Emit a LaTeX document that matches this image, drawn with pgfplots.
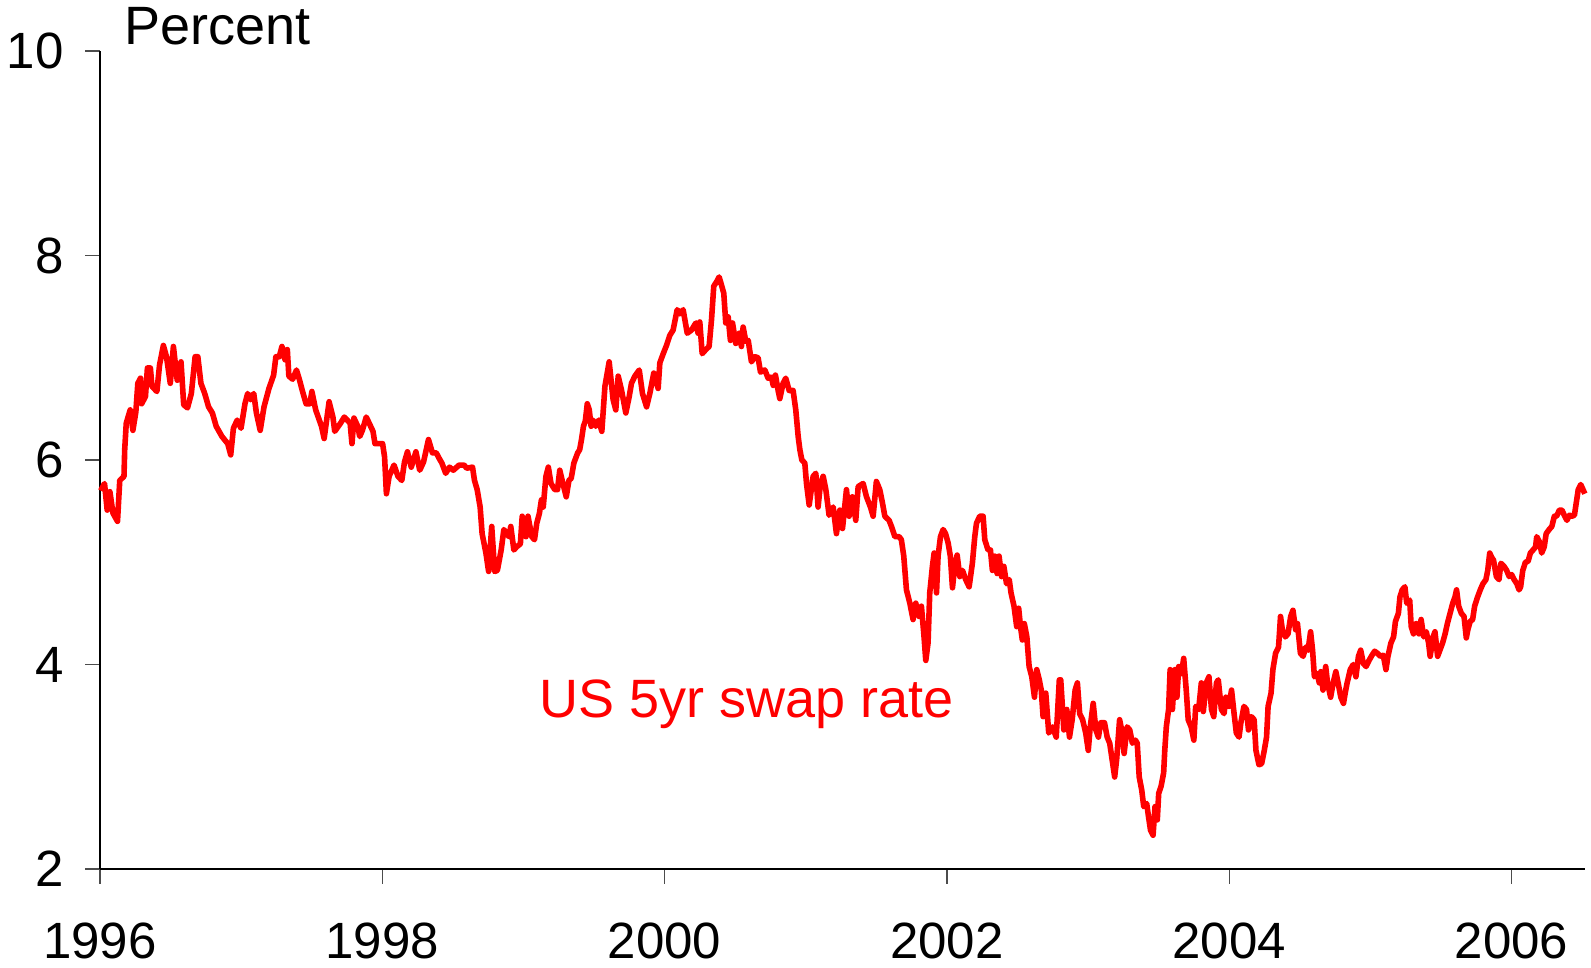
\documentclass[border=0pt]{standalone}
\usepackage{pgfplots}
\pgfplotsset{compat=1.18}
\usepackage{pgfplotstable}
\usepackage{fontspec}
\setmainfont{Liberation Sans}
\usetikzlibrary{calc}
\pgfplotstableread{
year value
1996.005 5.70
1996.032 5.77
1996.051 5.51
1996.070 5.69
1996.092 5.48
1996.124 5.40
1996.140 5.80
1996.170 5.84
1996.175 6.10
1996.186 6.36
1996.214 6.49
1996.233 6.29
1996.254 6.47
1996.268 6.75
1996.287 6.80
1996.295 6.55
1996.322 6.62
1996.336 6.90
1996.357 6.90
1996.368 6.72
1996.403 6.67
1996.422 6.93
1996.449 7.12
1996.471 7.01
1996.498 6.75
1996.520 7.11
1996.547 6.78
1996.574 6.96
1996.593 6.54
1996.620 6.51
1996.647 6.65
1996.674 7.01
1996.693 7.01
1996.715 6.75
1996.742 6.65
1996.769 6.52
1996.796 6.46
1996.823 6.33
1996.864 6.23
1996.905 6.16
1996.926 6.05
1996.945 6.31
1996.972 6.39
1996.999 6.31
1997.027 6.55
1997.046 6.65
1997.067 6.59
1997.089 6.65
1997.108 6.46
1997.135 6.29
1997.162 6.52
1997.197 6.70
1997.230 6.83
1997.246 7.01
1997.270 7.01
1997.289 7.11
1997.311 6.98
1997.327 7.08
1997.338 6.82
1997.365 6.79
1997.392 6.88
1997.414 6.78
1997.433 6.68
1997.460 6.55
1997.487 6.55
1997.501 6.67
1997.528 6.49
1997.569 6.33
1997.588 6.21
1997.623 6.57
1997.650 6.42
1997.663 6.28
1997.704 6.36
1997.731 6.42
1997.772 6.36
1997.785 6.16
1997.799 6.41
1997.826 6.33
1997.840 6.23
1997.859 6.29
1997.886 6.42
1997.907 6.36
1997.934 6.28
1997.948 6.16
1997.975 6.16
1998.002 6.16
1998.016 6.03
1998.029 5.67
1998.048 5.84
1998.083 5.95
1998.111 5.84
1998.138 5.80
1998.157 5.98
1998.178 6.08
1998.205 5.93
1998.238 6.08
1998.265 5.90
1998.292 5.98
1998.327 6.20
1998.355 6.07
1998.382 6.07
1998.401 6.02
1998.422 5.97
1998.449 5.87
1998.476 5.93
1998.503 5.90
1998.544 5.95
1998.579 5.95
1998.598 5.92
1998.639 5.93
1998.653 5.80
1998.672 5.71
1998.693 5.54
1998.707 5.28
1998.734 5.09
1998.753 4.91
1998.775 5.35
1998.796 4.91
1998.815 4.92
1998.842 5.12
1998.861 5.32
1998.897 5.25
1998.910 5.35
1998.932 5.12
1998.951 5.15
1998.978 5.18
1998.991 5.45
1999.018 5.25
1999.032 5.45
1999.059 5.25
1999.078 5.22
1999.094 5.38
1999.113 5.48
1999.127 5.61
1999.140 5.54
1999.159 5.84
1999.176 5.93
1999.195 5.77
1999.222 5.71
1999.241 5.71
1999.257 5.90
1999.276 5.79
1999.303 5.64
1999.322 5.80
1999.338 5.82
1999.357 5.97
1999.384 6.07
1999.398 6.10
1999.411 6.20
1999.425 6.33
1999.438 6.38
1999.452 6.55
1999.466 6.49
1999.479 6.33
1999.493 6.39
1999.512 6.33
1999.533 6.39
1999.555 6.28
1999.577 6.72
1999.607 6.96
1999.635 6.59
1999.654 6.49
1999.671 6.82
1999.695 6.68
1999.725 6.46
1999.749 6.62
1999.765 6.75
1999.789 6.82
1999.820 6.88
1999.843 6.65
1999.872 6.52
1999.895 6.65
1999.923 6.85
1999.954 6.70
1999.966 6.95
1999.990 7.04
2000.013 7.12
2000.037 7.22
2000.060 7.27
2000.089 7.47
2000.108 7.43
2000.131 7.47
2000.160 7.24
2000.190 7.27
2000.221 7.34
2000.237 7.24
2000.249 7.35
2000.266 7.04
2000.292 7.08
2000.315 7.11
2000.332 7.37
2000.348 7.70
2000.367 7.74
2000.386 7.79
2000.405 7.70
2000.419 7.63
2000.433 7.34
2000.450 7.40
2000.466 7.17
2000.481 7.34
2000.504 7.14
2000.528 7.24
2000.544 7.11
2000.556 7.30
2000.575 7.16
2000.592 7.17
2000.615 6.96
2000.639 7.01
2000.662 7.00
2000.679 6.86
2000.710 6.88
2000.733 6.80
2000.757 6.81
2000.769 6.73
2000.785 6.83
2000.804 6.68
2000.816 6.60
2000.839 6.75
2000.858 6.80
2000.882 6.68
2000.910 6.68
2000.929 6.49
2000.946 6.23
2000.958 6.10
2000.972 6.00
2000.993 5.97
2001.005 5.77
2001.024 5.56
2001.052 5.84
2001.071 5.87
2001.087 5.54
2001.104 5.77
2001.123 5.84
2001.142 5.71
2001.165 5.46
2001.194 5.54
2001.217 5.28
2001.241 5.51
2001.260 5.33
2001.288 5.71
2001.307 5.45
2001.330 5.64
2001.354 5.41
2001.371 5.74
2001.406 5.77
2001.430 5.64
2001.458 5.54
2001.477 5.45
2001.500 5.79
2001.524 5.71
2001.543 5.58
2001.560 5.45
2001.590 5.41
2001.607 5.35
2001.631 5.25
2001.661 5.25
2001.677 5.22
2001.694 5.06
2001.713 4.73
2001.737 4.60
2001.760 4.44
2001.779 4.60
2001.803 4.47
2001.819 4.57
2001.836 4.30
2001.850 4.04
2001.866 4.21
2001.878 4.70
2001.897 4.96
2001.909 5.09
2001.926 4.70
2001.937 5.06
2001.954 5.25
2001.973 5.32
2001.990 5.28
2002.008 5.19
2002.024 5.06
2002.039 4.75
2002.055 4.96
2002.072 5.07
2002.091 4.86
2002.110 4.92
2002.133 4.83
2002.157 4.76
2002.180 4.99
2002.197 5.25
2002.209 5.38
2002.232 5.45
2002.256 5.45
2002.268 5.22
2002.291 5.12
2002.308 5.12
2002.322 4.92
2002.339 5.06
2002.355 4.89
2002.369 5.06
2002.387 4.86
2002.403 4.96
2002.422 4.79
2002.441 4.83
2002.454 4.70
2002.475 4.57
2002.494 4.37
2002.508 4.55
2002.521 4.37
2002.534 4.24
2002.548 4.40
2002.566 4.27
2002.582 3.98
2002.601 3.88
2002.620 3.68
2002.636 3.95
2002.654 3.85
2002.668 3.75
2002.681 3.49
2002.700 3.72
2002.721 3.33
2002.748 3.39
2002.774 3.29
2002.796 3.85
2002.806 3.85
2002.828 3.36
2002.849 3.56
2002.868 3.29
2002.887 3.46
2002.908 3.75
2002.924 3.82
2002.940 3.52
2002.961 3.46
2002.983 3.33
2003.001 3.16
2003.015 3.39
2003.036 3.62
2003.055 3.36
2003.073 3.29
2003.089 3.43
2003.116 3.43
2003.135 3.29
2003.153 3.23
2003.170 3.07
2003.188 2.90
2003.202 3.07
2003.223 3.46
2003.242 3.33
2003.255 3.13
2003.276 3.39
2003.295 3.36
2003.314 3.23
2003.335 3.26
2003.348 3.23
2003.362 2.90
2003.380 2.77
2003.394 2.61
2003.415 2.64
2003.428 2.51
2003.442 2.38
2003.460 2.33
2003.474 2.61
2003.490 2.48
2003.500 2.74
2003.517 2.81
2003.535 2.94
2003.543 3.16
2003.554 3.39
2003.570 3.56
2003.581 3.95
2003.597 3.56
2003.615 3.95
2003.629 3.68
2003.642 3.98
2003.661 3.91
2003.677 4.06
2003.695 3.75
2003.709 3.46
2003.730 3.39
2003.749 3.26
2003.762 3.59
2003.783 3.56
2003.802 3.82
2003.816 3.54
2003.837 3.82
2003.856 3.88
2003.874 3.56
2003.890 3.49
2003.909 3.82
2003.922 3.85
2003.944 3.56
2003.963 3.52
2003.976 3.68
2003.997 3.59
2004.016 3.75
2004.034 3.52
2004.050 3.33
2004.069 3.29
2004.082 3.43
2004.104 3.59
2004.122 3.56
2004.136 3.36
2004.157 3.49
2004.176 3.46
2004.189 3.16
2004.210 3.02
2004.229 3.03
2004.248 3.16
2004.264 3.29
2004.275 3.59
2004.296 3.72
2004.309 3.95
2004.328 4.11
2004.349 4.17
2004.363 4.47
2004.376 4.34
2004.397 4.27
2004.416 4.30
2004.435 4.47
2004.451 4.53
2004.470 4.34
2004.483 4.40
2004.504 4.11
2004.523 4.08
2004.542 4.17
2004.558 4.14
2004.576 4.32
2004.590 4.14
2004.603 3.88
2004.622 3.91
2004.638 3.82
2004.648 3.93
2004.664 3.75
2004.683 3.98
2004.696 3.82
2004.718 3.68
2004.736 3.82
2004.755 3.93
2004.771 3.82
2004.790 3.68
2004.809 3.62
2004.825 3.75
2004.835 3.82
2004.857 3.95
2004.878 4.00
2004.897 3.88
2004.915 4.08
2004.931 4.14
2004.950 4.01
2004.969 3.98
2004.990 4.04
2005.011 4.09
2005.030 4.13
2005.049 4.11
2005.070 4.08
2005.091 4.09
2005.110 3.95
2005.124 4.08
2005.145 4.21
2005.164 4.27
2005.177 4.42
2005.198 4.50
2005.209 4.66
2005.225 4.73
2005.244 4.76
2005.257 4.60
2005.278 4.63
2005.289 4.37
2005.305 4.30
2005.324 4.40
2005.343 4.30
2005.359 4.44
2005.377 4.27
2005.396 4.32
2005.412 4.21
2005.423 4.08
2005.444 4.27
2005.457 4.32
2005.476 4.08
2005.492 4.14
2005.511 4.21
2005.529 4.30
2005.545 4.40
2005.564 4.50
2005.583 4.60
2005.599 4.66
2005.610 4.73
2005.625 4.57
2005.644 4.50
2005.663 4.47
2005.679 4.26
2005.690 4.34
2005.706 4.42
2005.724 4.44
2005.738 4.57
2005.759 4.66
2005.778 4.73
2005.797 4.79
2005.818 4.83
2005.831 4.92
2005.845 5.09
2005.858 5.05
2005.872 5.02
2005.892 4.86
2005.911 4.83
2005.924 4.99
2005.946 4.96
2005.965 4.92
2005.983 4.86
2006.000 4.88
2006.018 4.83
2006.037 4.79
2006.053 4.73
2006.064 4.76
2006.079 4.92
2006.098 5.00
2006.117 5.01
2006.133 5.09
2006.152 5.12
2006.170 5.15
2006.178 5.25
2006.197 5.20
2006.213 5.09
2006.231 5.15
2006.245 5.28
2006.266 5.32
2006.285 5.35
2006.303 5.45
2006.319 5.45
2006.338 5.51
2006.357 5.51
2006.373 5.46
2006.392 5.41
2006.410 5.46
2006.426 5.45
2006.445 5.46
2006.458 5.58
2006.472 5.71
2006.490 5.76
2006.506 5.71
2006.519 5.67
}\swap
\begin{document}
\begin{tikzpicture}
\begin{axis}[
  name=ax,
  scale only axis,
  width=742.5pt, height=409pt,
  xmin=1996, xmax=2006.52,
  ymin=2, ymax=10,
  axis lines*=left,
  axis line style={black, line width=0.6pt},
  tick style={black!70, line width=0.6pt},
  tick align=outside,
  major tick length=7.5pt,
  xtick={1996,1998,2000,2002,2004,2006},
  xticklabels={1996,1998,2000,2002,2004,2006},
  ytick={2,4,6,8,10},
  yticklabels={2,4,6,8,10},
  tick label style={font=\fontsize{25.5}{30}\selectfont, inner sep=0pt},
  xticklabel style={anchor=north, yshift=-19pt},
  yticklabel style={anchor=east, xshift=-10.5pt},
  clip=false,
]
\addplot[color=red, line width=2.8pt, line join=round] table[x=year, y=value] {\swap};
\node[anchor=base west, inner sep=0pt, text=red, font=\fontsize{27}{32}\selectfont] at (axis cs:1999.11,3.477) {US 5yr swap rate};
\node[anchor=base west, inner sep=0pt, font=\fontsize{27}{32}\selectfont] at ([xshift=12pt, yshift=3pt]rel axis cs:0,1) {Percent};
\end{axis}
\pgfresetboundingbox
\path[use as bounding box] ($(ax.south west)+(-50pt,-49.5pt)$) rectangle ($(ax.north east)+(3pt,25.5pt)$);
\end{tikzpicture}
\end{document}
